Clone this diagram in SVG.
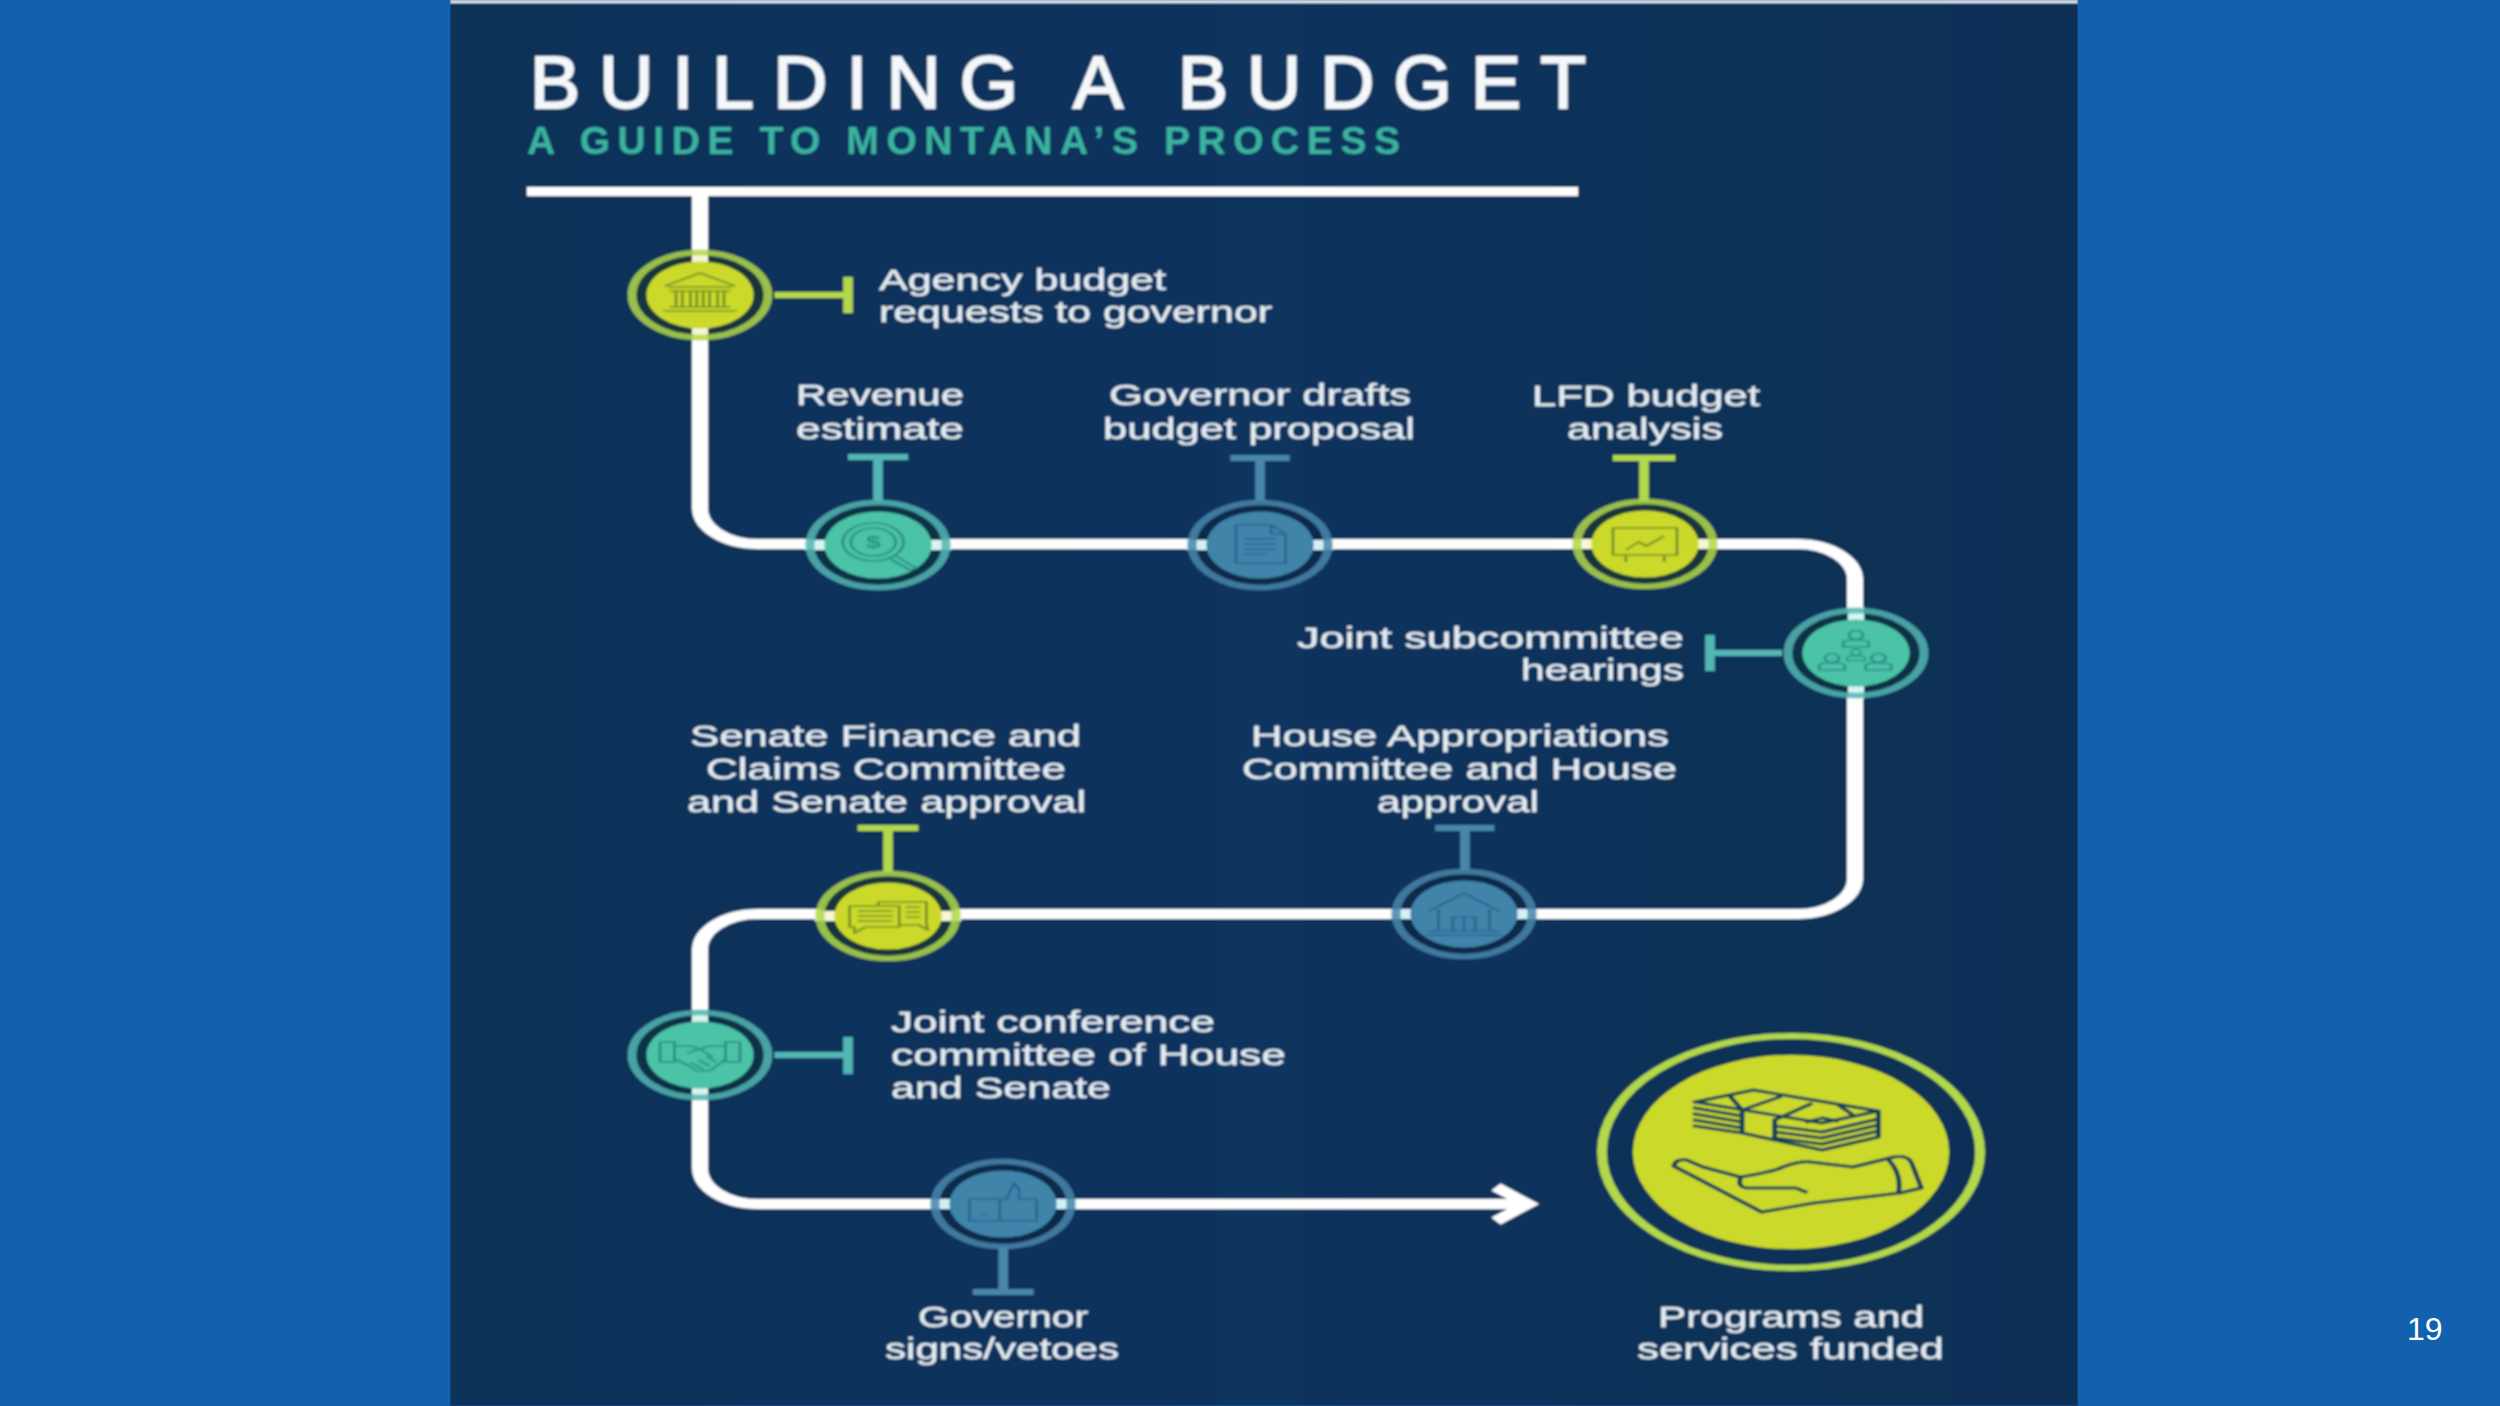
<svg xmlns="http://www.w3.org/2000/svg" xmlns:xlink="http://www.w3.org/1999/xlink" width="2500" height="1406" viewBox="0 0 2500 1406">
<style>
.y{--ring:#b2d84c;--fill:#cbd92c;--ink:#76902c;--gap:#15363c;--stub:#f4f7d8}
.t{--ring:#52b6b3;--fill:#4cc3a6;--ink:#2b8f88;--gap:#0c3347;--stub:#d8f5f2}
.b{--ring:#4a86ab;--fill:#4084aa;--ink:#2c6690;--gap:#0d2c4c;--stub:#d2f0f8}
.gap{fill:var(--gap)}
.stub{fill:none;stroke:var(--stub);stroke-width:10}
.ring{fill:none;stroke:var(--ring);stroke-width:5.5;opacity:.85}
.disc{fill:var(--fill)}
.ink{fill:none;stroke:var(--ink);stroke-width:1.7;stroke-linejoin:round}
.tick{fill:none;stroke:var(--ring);stroke-width:6}
.main{fill:none;stroke:#fff;stroke-width:10}
.lbl{font-family:"Liberation Sans",Arial,sans-serif;font-size:30px;fill:#e4edf3;stroke:#e4edf3;stroke-width:.4}
</style>
<defs>
<linearGradient id="panel" x1="0" x2="1" y1="0" y2="0"><stop offset="0" stop-color="#0f3059"/><stop offset=".5" stop-color="#10345e"/><stop offset="1" stop-color="#0d2f55"/></linearGradient>
<filter id="soft" x="0" y="0" width="1" height="1" filterUnits="objectBoundingBox"><feGaussianBlur stdDeviation="0.8"/></filter>
<marker id="chev" markerUnits="userSpaceOnUse" markerWidth="44" markerHeight="60" refX="26" refY="25" orient="auto"><path d="M6 8L26 25L6 42" fill="none" stroke="#fff" stroke-width="9"/></marker>
<g id="nh"><circle r="42" class="gap"/><path d="M-46 0H-33M33 0H46" class="stub"/><circle r="42.5" class="ring"/><circle r="33.5" class="disc"/></g>
<g id="nv"><circle r="42" class="gap"/><path d="M0 -46V-33M0 33V46" class="stub"/><circle r="42.5" class="ring"/><circle r="33.5" class="disc"/></g>
<g id="person"><circle cy="-4" r="4.5"/><path d="M-8 8V4Q-8 1 -3 1H3Q8 1 8 4V8Z"/></g>
</defs>
<rect id="background" width="2500" height="1406" fill="#1261af"/>
<g filter="url(#soft)">
<rect x="450" y="0" width="1628" height="1406" fill="url(#panel)"/>
<rect x="450" y="0" width="1628" height="3" fill="#e8eef4"/>
<g id="title">
<text x="530" y="108" textLength="1056" lengthAdjust="spacing" font-family="'Liberation Sans',Arial,sans-serif" font-size="75" fill="#f4f8fb" stroke="#f4f8fb" stroke-width="2">BUILDING A BUDGET</text>
<text x="527" y="154" textLength="873" lengthAdjust="spacing" font-family="'Liberation Sans',Arial,sans-serif" font-weight="700" font-size="39" fill="#3bb39f">A GUIDE TO MONTANA’S PROCESS</text>
<rect x="527" y="187" width="1051" height="9" fill="#fff"/>
</g>
<g id="connectors" transform="scale(1.6 1)">
<path class="main" marker-end="url(#chev)" d="M437.5 191V508A36 36 0 0 0 473.5 544H1123.4A36 36 0 0 1 1159.4 580V878A36 36 0 0 1 1123.4 914H473.5A36 36 0 0 0 437.5 950V1168A36 36 0 0 0 473.5 1204H955"/>
<path class="tick y" d="M484 295H530M530 277V313"/>
<path class="tick t" d="M548.75 501V457M530 457H567.5"/>
<path class="tick b" d="M787.5 501V458M769 458H806"/>
<path class="tick y" d="M1027.5 501V458M1008 458H1047"/>
<path class="tick t" d="M1113.75 653H1068.75M1068.75 635V671"/>
<path class="tick b" d="M915.6 870V828M897 828H934"/>
<path class="tick y" d="M555 872V828M536 828H574"/>
<path class="tick t" d="M484 1055H530M530 1037V1074"/>
<path class="tick b" d="M627 1248V1292M608 1292H646"/>
</g>
<g id="node-agency" class="y">
<g transform="translate(700 295) scale(1.6 1)"><use xlink:href="#nv" href="#nv"/>
<path class="ink" d="M-22 -9L0 -22L22 -9M-20 -8H20M-19 -4H19M-15 -4V12M-11 -4V12M-6 -4V12M-2 -4V12M2 -4V12M6 -4V12M11 -4V12M15 -4V12M-19 12H19M-23 16H23"/></g>
<text class="lbl" x="879" y="290" textLength="287" lengthAdjust="spacingAndGlyphs">Agency budget</text>
<text class="lbl" x="879" y="322" textLength="393" lengthAdjust="spacingAndGlyphs">requests to governor</text>
</g>
<g id="node-revenue" class="t">
<g transform="translate(878 545) scale(1.6 1)"><use xlink:href="#nh" href="#nh"/>
<path class="ink" d="M16 -3A19 19 0 1 1 -22 -3A19 19 0 1 1 16 -3ZM11 -3A14 14 0 1 1 -17 -3A14 14 0 1 1 11 -3ZM11 11L24 23L20 25L8 14"/>
<text x="-3" y="3" text-anchor="middle" font-family="Liberation Sans,sans-serif" font-weight="700" font-size="17" fill="var(--ink)">$</text></g>
<text class="lbl" x="796" y="405" textLength="168" lengthAdjust="spacingAndGlyphs">Revenue</text>
<text class="lbl" x="796" y="439" textLength="168" lengthAdjust="spacingAndGlyphs">estimate</text>
</g>
<g id="node-governor-drafts" class="b">
<g transform="translate(1260 545) scale(1.6 1)"><use xlink:href="#nh" href="#nh"/>
<path class="ink" d="M-15 -20H7L16 -11V18H-15ZM7 -20V-11H16M-10 -6H10M-10 -1H10M-10 4H10M-10 9H4"/></g>
<text class="lbl" x="1109" y="405" textLength="302" lengthAdjust="spacingAndGlyphs">Governor drafts</text>
<text class="lbl" x="1103" y="439" textLength="312" lengthAdjust="spacingAndGlyphs">budget proposal</text>
</g>
<g id="node-lfd" class="y">
<g transform="translate(1645 544) scale(1.6 1)"><use xlink:href="#nh" href="#nh"/>
<path class="ink" d="M-20 -16H20V11H-20ZM-12 6L-4 -2L1 2L12 -8M-12 11V18M12 11V18"/></g>
<text class="lbl" x="1532" y="406" textLength="228" lengthAdjust="spacingAndGlyphs">LFD budget</text>
<text class="lbl" x="1567" y="439" textLength="156" lengthAdjust="spacingAndGlyphs">analysis</text>
</g>
<g id="node-joint-sub" class="t">
<g transform="translate(1856 653) scale(1.6 1)"><use xlink:href="#nv" href="#nv"/>
<use xlink:href="#person" href="#person" class="ink" y="-14"/><use xlink:href="#person" href="#person" class="ink" x="-15" y="9"/><use xlink:href="#person" href="#person" class="ink" x="14" y="9"/><use xlink:href="#person" href="#person" class="ink" y="3" transform="scale(.7)"/></g>
<text class="lbl" x="1297" y="648" textLength="387" lengthAdjust="spacingAndGlyphs">Joint subcommittee</text>
<text class="lbl" x="1521" y="680" textLength="163" lengthAdjust="spacingAndGlyphs">hearings</text>
</g>
<g id="node-house" class="b">
<g transform="translate(1464 914) scale(1.6 1)"><use xlink:href="#nh" href="#nh"/>
<path class="ink" d="M-22 -3L0 -21L22 -3M-16 -5V17M16 -5V17M-7 17V3H7V17M0 3V17M-22 17H22M-24 21H24"/></g>
<text class="lbl" x="1251" y="746" textLength="418" lengthAdjust="spacingAndGlyphs">House Appropriations</text>
<text class="lbl" x="1242" y="779" textLength="435" lengthAdjust="spacingAndGlyphs">Committee and House</text>
<text class="lbl" x="1377" y="812" textLength="162" lengthAdjust="spacingAndGlyphs">approval</text>
</g>
<g id="node-senate" class="y">
<g transform="translate(888 916) scale(1.6 1)"><use xlink:href="#nh" href="#nh"/>
<path class="ink" d="M-24 -10H7V11H-14L-21 17V11H-24ZM-19 -5H3M-19 0H3M-19 5H3M-6 -10V-14H24V9L25 14L19 9H7M11 -9H20M11 -4H20M11 1H20"/></g>
<text class="lbl" x="690" y="746" textLength="391" lengthAdjust="spacingAndGlyphs">Senate Finance and</text>
<text class="lbl" x="706" y="779" textLength="360" lengthAdjust="spacingAndGlyphs">Claims Committee</text>
<text class="lbl" x="687" y="812" textLength="399" lengthAdjust="spacingAndGlyphs">and Senate approval</text>
</g>
<g id="node-conference" class="t">
<g transform="translate(700 1055) scale(1.6 1)"><use xlink:href="#nv" href="#nv"/>
<path class="ink" d="M-25 -13H-16V7H-25ZM16 -13H25V7H16ZM-16 -9H-6L0 -6L6 -9H16M-16 4L-8 10L-2 16L6 16L12 9L16 4M-8 -2L0 -6L8 2M-6 8L2 14M-1 5L6 11M4 1L10 7"/></g>
<text class="lbl" x="891" y="1032" textLength="324" lengthAdjust="spacingAndGlyphs">Joint conference</text>
<text class="lbl" x="891" y="1065" textLength="395" lengthAdjust="spacingAndGlyphs">committee of House</text>
<text class="lbl" x="891" y="1098" textLength="220" lengthAdjust="spacingAndGlyphs">and Senate</text>
</g>
<g id="node-governor-signs" class="b">
<g transform="translate(1003 1204) scale(1.6 1)"><use xlink:href="#nh" href="#nh"/>
<path class="ink" d="M-21 -5H-2V17H-21ZM-2 -4L2 -5L7 -21L10 -15V-5H21V17H-2ZM-14 11H-10"/></g>
<text class="lbl" x="918" y="1327" textLength="170" lengthAdjust="spacingAndGlyphs">Governor</text>
<text class="lbl" x="885" y="1359" textLength="234" lengthAdjust="spacingAndGlyphs">signs/vetoes</text>
</g>
<g id="node-programs">
<g transform="translate(1791 1152) scale(1.63 1)">
<circle r="116" fill="none" stroke="#b2d84c" stroke-width="6"/>
<circle r="97" fill="#cbd92c"/>
<g fill="none" stroke="#12405a" stroke-width="3" stroke-linejoin="round" stroke-linecap="round">
<path d="M-59 -50L-23 -62L53.6 -41L19 -29L-59 -50ZM-59 -44L-30 -36M-59 -38L-30 -30M-59 -32L-30 -24M-59 -26L-30 -19M-30 -42V-19L-10 -12L19 -2L53.6 -15V-41M-10 -32V-12"/>
<path d="M-10 -26L19 -20L53.6 -33M-10 -20L19 -14L53.6 -27M-10 -14L19 -8L53.6 -21M-10 -32L12 -48"/>
<path d="M-37 -55L-30 -42L-7 -55M10 -30L19 -34L28 -31M30 -46L38 -37"/>
<path d="M-72 14Q-71 7 -64 8L-54 15L-31 25Q-11 20 -5 15Q5 9 12 10L38 15L63 5Q72 3 74 11L80 36L67 41L14 51L-18 60ZM-31 26Q-33 35 -27 36L3 36L9 40M60 8Q68 22 66 40"/>
</g></g>
<text class="lbl" x="1658" y="1327" textLength="266" lengthAdjust="spacingAndGlyphs">Programs and</text>
<text class="lbl" x="1637" y="1359" textLength="307" lengthAdjust="spacingAndGlyphs">services funded</text>
</g>
</g>
<text id="page-number" x="2407" y="1340" font-family="Liberation Sans,Arial,sans-serif" font-size="32" fill="#fff">19</text>
</svg>
